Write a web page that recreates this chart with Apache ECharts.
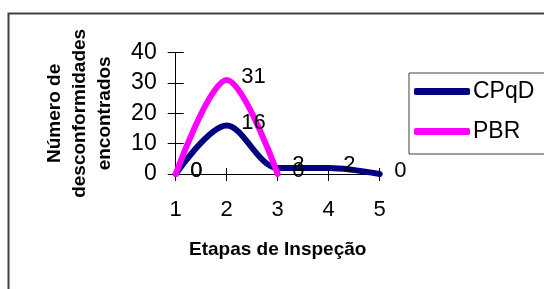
<!DOCTYPE html>
<html>
<head>
<meta charset="utf-8">
<script src="https://cdn.jsdelivr.net/npm/echarts@6/dist/echarts.min.js"></script>
<style>
  html, body { margin: 0; padding: 0; background: #fff; }
  #chart { width: 544px; height: 289px; }
</style>
</head>
<body>
<div id="chart"></div>
<script type="text/javascript">
// dados do gráfico
var etapas = ['1', '2', '3', '4', '5'];
var cpqd = [0, 16, 2, 2, 0];
var pbr = [0, 31, 0, null, null];
var yTicks = { min: 0, max: 40, interval: 10 };

var fonte = 'Arial, "Liberation Sans", sans-serif';
var chart = echarts.init(document.getElementById('chart'));

var rotulo = {
	show: true,
	position: 'right',
	distance: 14,
	offset: [0, -3],
	color: '#000',
	fontSize: 22,
	fontFamily: fonte
};

var option = {
	backgroundColor: '#fff',
	animation: false,
	graphic: [{
		type: 'rect',
		shape: { x: 8.5, y: 13.5, width: 600, height: 320 },
		style: { fill: 'none', stroke: '#404040', lineWidth: 2 },
		z: -1
	}],
	grid: { left: 175.7, right: 164.3, top: 52.7, bottom: 115 },
	legend: {
		left: 409,
		top: 73,
		orient: 'vertical',
		data: [
			{ name: 'CPqD', itemStyle: { color: '#000080' } },
			{ name: 'PBR', itemStyle: { color: '#ff00ff' } }
		],
		icon: 'roundRect',
		itemWidth: 56,
		itemHeight: 7,
		itemGap: 17,
		padding: [7, 60, 11, 5],
		borderColor: '#404040',
		borderWidth: 1,
		textStyle: { fontSize: 23, fontFamily: fonte, color: '#000', lineHeight: 20, padding: [0, 0, 0, -2] }
	},
	xAxis: [{
		type: 'category',
		data: etapas,
		boundaryGap: false,
		name: 'Etapas de Inspeção',
		nameLocation: 'middle',
		nameGap: 66,
		nameTextStyle: { fontSize: 19, fontWeight: 'bold', fontFamily: fonte, color: '#000' },
		axisLine: { lineStyle: { color: '#000', width: 1 } },
		axisTick: { length: 7, lineStyle: { color: '#000' } },
		axisLabel: { margin: 25, fontSize: 22, fontFamily: fonte, color: '#000' },
		splitLine: { show: false }
	}, {
		type: 'category',
		data: etapas,
		boundaryGap: false,
		position: 'bottom',
		axisLine: { show: false },
		axisTick: { inside: true, length: 6, lineStyle: { color: '#000' } },
		axisLabel: { show: false }
	}],
	yAxis: [{
		type: 'value',
		min: yTicks.min,
		max: yTicks.max,
		interval: yTicks.interval,
		name: 'Número de\ndesconformidades\nencontrados',
		nameLocation: 'middle',
		nameRotate: 90,
		nameGap: 58,
		nameTextStyle: { fontSize: 19, fontWeight: 'bold', fontFamily: fonte, color: '#000', lineHeight: 25 },
		axisLine: { show: true, lineStyle: { color: '#000', width: 1 } },
		axisTick: { show: true, length: 8, lineStyle: { color: '#000' } },
		axisLabel: { margin: 19, fontSize: 23, fontFamily: fonte, color: '#000' },
		splitLine: { show: false }
	}, {
		type: 'value',
		min: yTicks.min,
		max: yTicks.max,
		interval: yTicks.interval,
		position: 'left',
		axisLine: { show: false },
		axisTick: { show: true, inside: true, length: 8, lineStyle: { color: '#000' } },
		axisLabel: { show: false },
		splitLine: { show: false }
	}],
	series: [{
		name: 'CPqD',
		type: 'line',
		data: cpqd,
		smooth: 0.33,
		symbol: 'circle',
		symbolSize: 1,
		showSymbol: true,
		itemStyle: { color: '#000080' },
		lineStyle: { width: 6, color: '#000080', cap: 'round' },
		label: rotulo
	}, {
		name: 'PBR',
		type: 'line',
		data: pbr,
		smooth: 0.33,
		symbol: 'circle',
		symbolSize: 1,
		showSymbol: true,
		itemStyle: { color: '#ff00ff' },
		lineStyle: { width: 6, color: '#ff00ff', cap: 'round' },
		label: rotulo
	}]
};

chart.setOption(option);
</script>
</body>
</html>
